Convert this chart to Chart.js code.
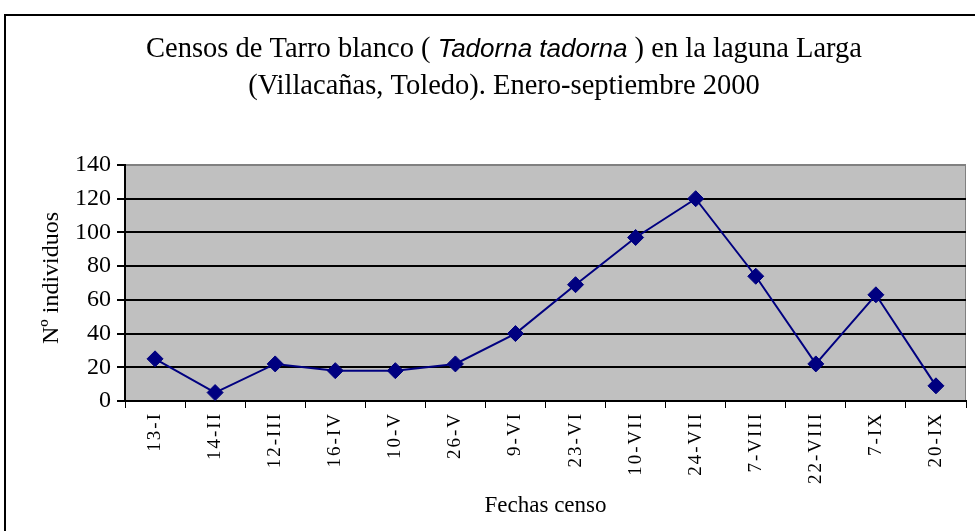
<!DOCTYPE html>
<html>
<head>
<meta charset="utf-8">
<script src="https://cdn.jsdelivr.net/npm/chart.js@4"></script>
<style>
  body { margin: 0; background: #fff; }
  #wrap { width: 975px; height: 531px; }
</style>
</head>
<body>
<div id="wrap"><canvas id="chart" width="975" height="531"></canvas></div>
<script>

// data
const fechas = ['13-I', '14-II', '12-III', '16-IV', '10-V', '26-V', '9-VI', '23-VI',
                '10-VII', '24-VII', '7-VIII', '22-VIII', '7-IX', '20-IX'];
const individuos = [25, 5, 22, 18, 18, 22, 40, 69, 97, 120, 74, 22, 63, 9];
const yTicks = [0, 20, 40, 60, 80, 100, 120, 140];

const serif = "'Liberation Serif', 'Times New Roman', serif";

// frame, grey plot background, the mixed-font title and the y title
const decor = {
    id: 'decor',
    beforeDraw: (chart) => {
        const ctx = chart.ctx;
        const a = chart.chartArea;
        ctx.save();
        ctx.fillStyle = '#fff';
        ctx.fillRect(0, 0, chart.width, chart.height);
        ctx.strokeStyle = '#000';
        ctx.lineWidth = 2;
        ctx.strokeRect(5, 15, 1000, 540);
        ctx.fillStyle = '#c0c0c0';
        ctx.fillRect(a.left, a.top, a.right - a.left, a.bottom - a.top);
        ctx.strokeStyle = '#808080';
        ctx.lineWidth = 1;
        ctx.strokeRect(a.left + 0.5, a.top + 0.5, a.right - a.left - 1, a.bottom - a.top);
        ctx.restore();
    },
    afterDraw: (chart) => {
        const ctx = chart.ctx;
        ctx.save();
        ctx.fillStyle = '#000';
        ctx.textBaseline = 'middle';
        const parts = [
            ['Censos de Tarro blanco ( ', '28.5px ' + serif],
            ['Tadorna tadorna', "italic 26px 'Liberation Sans', Arial, sans-serif"],
            [' ) en la laguna Larga', '28.5px ' + serif]
        ];
        let total = 0;
        parts.forEach(p => { ctx.font = p[1]; total += ctx.measureText(p[0]).width; });
        let x = 504 - total / 2;
        ctx.textAlign = 'left';
        parts.forEach(p => {
            ctx.font = p[1];
            ctx.fillText(p[0], x, 50);
            x += ctx.measureText(p[0]).width;
        });
        ctx.font = '28.5px ' + serif;
        ctx.textAlign = 'center';
        ctx.fillText('(Villacañas, Toledo). Enero-septiembre 2000', 504, 87);

        // y axis title
        ctx.translate(52, 278);
        ctx.rotate(-Math.PI / 2);
        ctx.font = '24px ' + serif;
        ctx.fillText('Nº individuos', 0, 0);
        ctx.restore();
    }
};

const ctx = document.getElementById('chart').getContext('2d');
const myChart = new Chart(ctx, {
    type: 'line',
    data: {
        labels: fechas,
        datasets: [{
            label: 'Nº individuos',
            data: individuos,
            borderColor: '#000080',
            backgroundColor: '#000080',
            borderWidth: 2,
            pointStyle: 'rectRot',
            pointRadius: 8,
            pointBorderWidth: 1,
            tension: 0
        }]
    },
    options: {
        responsive: false,
        animation: false,
        layout: {
            padding: { left: 33, right: 4, top: 165, bottom: 10 }
        },
        scales: {
            x: {
                offset: true,
                grid: {
                    offset: true,
                    drawOnChartArea: false,
                    drawTicks: true,
                    tickLength: 7,
                    color: '#000',
                    lineWidth: 1
                },
                border: { color: '#000', width: 2 },
                ticks: {
                    color: '#000',
                    font: { family: serif, size: 19 },
                    minRotation: 90,
                    maxRotation: 90,
                    autoSkip: false,
                    padding: 4
                },
                title: {
                    display: true,
                    text: 'Fechas censo',
                    color: '#000',
                    font: { family: serif, size: 23 },
                    padding: 1
                },
                afterFit: (scale) => {
                    scale.height = 120;
                    // the tick labels in the picture are spaced out
                    if (!scale._spaced) {
                        const orig = scale.drawLabels;
                        scale.drawLabels = function (area) {
                            const c = this.ctx;
                            c.save();
                            c.letterSpacing = '2px';
                            orig.call(this, area);
                            c.restore();
                        };
                        scale._spaced = true;
                    }
                }
            },
            y: {
                min: 0,
                max: 140,
                afterBuildTicks: (scale) => { scale.ticks = yTicks.map(v => ({ value: v })); },
                grid: {
                    color: (c) => c.tick && c.tick.value === 140 ? '#808080' : '#000',
                    lineWidth: 2,
                    tickLength: 8,
                    tickColor: '#000'
                },
                border: { color: '#000', width: 2 },
                ticks: {
                    color: '#000',
                    font: { family: serif, size: 24 },
                    padding: 6
                },
                afterFit: (scale) => { scale.width = 92; }
            }
        },
        plugins: {
            legend: { display: false },
            tooltip: { enabled: false }
        }
    },
    plugins: [decor]
});

</script>
</body>
</html>
